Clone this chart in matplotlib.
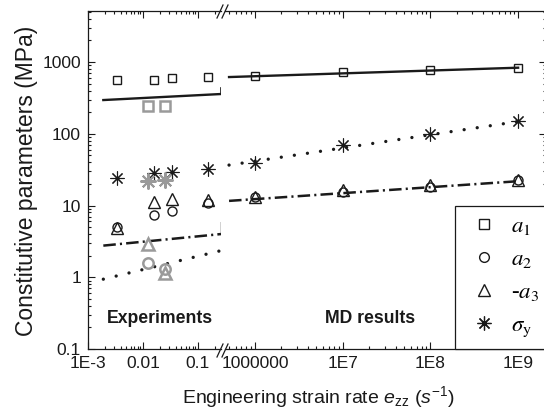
import numpy as np
import matplotlib.pyplot as plt
from matplotlib.lines import Line2D
from matplotlib.font_manager import FontProperties
from matplotlib.ticker import FixedLocator, LogLocator, NullFormatter

plt.rcParams['font.family'] = ['Liberation Sans', 'DejaVu Sans']
plt.rcParams['mathtext.fontset'] = 'custom'
plt.rcParams['mathtext.rm'] = 'Liberation Sans'
plt.rcParams['mathtext.it'] = 'Liberation Sans:italic'
plt.rcParams['lines.scale_dashes'] = False

# experiments (quasi-static tests)
exp_rate = [0.0033, 0.016, 0.033, 0.15]
exp_a1 = [560, 565, 600, 620]
exp_a2 = [5.0, 7.4, 8.5, 10.7]
exp_a3 = [4.8, 11.1, 12.3, 11.9]
exp_sy = [24.4, 28.1, 29.0, 32.0]

# second experimental set (grey)
grey_rate = [0.0125, 0.025]
grey_a1 = [245, 245]
grey_a2 = [1.6, 1.3]
grey_a3 = [2.9, 1.15]
grey_sy = [22.0, 22.5]

# molecular dynamics
md_rate = [1e6, 1e7, 1e8, 1e9]
md_a1 = [638, 726, 774, 833]
md_a2 = [13.3, 15.6, 18.3, 23.0]
md_a3 = [13.3, 16.2, 19.3, 22.6]
md_sy = [39.5, 70.3, 99.3, 150.0]

# fitted power laws, low rate side
fit_lo_rate = [0.0019, 0.262]
fit_lo_a1 = [295, 358]
fit_lo_a23 = [2.76, 4.0]
fit_lo_sy = [0.94, 2.35]
# steps at the axis break
step_a1 = [358, 434]
step_a23 = [4.0, 6.3]

# fitted power laws, high rate side
fit_hi_rate = [5.06e5, 1e9]
fit_hi_a1 = [617, 833]
fit_hi_a23 = [11.6, 21.8]
fit_hi_sy = [36.6, 148]

W, H = 544, 412
fig = plt.figure(figsize=(W / 100, H / 100), dpi=100)

def px_rect(x0, x1, y0, y1):
    return [x0 / W, 1 - y1 / H, (x1 - x0) / W, (y1 - y0) / H]

ax1 = fig.add_axes(px_rect(88, 221, 11, 349))
ax2 = fig.add_axes(px_rect(225, 546, 11, 349))

blk = '#1a1a1a'
grey = '#9a9a9a'
dashdot = (0, (9, 3, 1.5, 3))
dotted = (0, (0.01, 9.5))
star = (8, 2, 0)

def markers(ax, x, a1, a2, a3, sy, color, lw, scale):
    ax.plot(x, a1, ls='none', marker='s', ms=6.2 * scale, mfc='none', mec=color, mew=lw)
    ax.plot(x, a2, ls='none', marker='o', ms=6.5 * scale, mfc='none', mec=color, mew=lw)
    ax.plot(x, a3, ls='none', marker='^', ms=8.0 * scale, mfc='none', mec=color, mew=lw)
    ax.plot(x, sy, ls='none', marker=star, ms=10 * scale, mfc='none', mec=color, mew=lw * 0.8)

# low rate panel
ax1.plot(fit_lo_rate, fit_lo_a1, color=blk, lw=1.7)
ax1.plot([fit_lo_rate[1]] * 2, step_a1, color=blk, lw=1.2)
ax1.plot(fit_lo_rate, fit_lo_a23, color=blk, lw=1.8, ls=dashdot)
ax1.plot([fit_lo_rate[1]] * 2, step_a23, color=blk, lw=1.0, ls=dashdot)
ax1.plot(fit_lo_rate, fit_lo_sy, color=blk, lw=2.4, ls=dotted, dash_capstyle='round')
markers(ax1, exp_rate, exp_a1, exp_a2, exp_a3, exp_sy, blk, 1.0, 1.0)
markers(ax1, grey_rate, grey_a1, grey_a2, grey_a3, grey_sy, grey, 1.8, 1.15)

# high rate panel
ax2.plot(fit_hi_rate, fit_hi_a1, color=blk, lw=1.7)
ax2.plot(fit_hi_rate, fit_hi_a23, color=blk, lw=1.8, ls=dashdot)
ax2.plot(fit_hi_rate, fit_hi_sy, color=blk, lw=2.4, ls=dotted, dash_capstyle='round')
markers(ax2, md_rate, md_a1, md_a2, md_a3, md_sy, blk, 1.0, 1.0)

for ax in (ax1, ax2):
    ax.set_xscale('log')
    ax.set_yscale('log')
    ax.set_ylim(0.1, 5140)
    ax.yaxis.set_major_locator(FixedLocator([0.1, 1, 10, 100, 1000]))
    ax.yaxis.set_minor_locator(LogLocator(base=10, subs=np.arange(2, 10)))
    ax.yaxis.set_minor_formatter(NullFormatter())
    ax.xaxis.set_minor_locator(LogLocator(base=10, subs=np.arange(2, 10), numticks=30))
    ax.xaxis.set_minor_formatter(NullFormatter())
    ax.tick_params(which='both', direction='in', top=True, labelsize=12.5, width=0.8, colors=blk)
    ax.tick_params(which='major', length=5)
    ax.tick_params(which='minor', length=2.5)
    ax.tick_params(axis='x', pad=5)
    for s in ax.spines.values():
        s.set_linewidth(0.9)
        s.set_color(blk)

ax1.set_xlim(1e-3, 0.262)
ax1.set_xticks([1e-3, 1e-2, 1e-1])
ax1.set_xticklabels(['1E-3', '0.01', '0.1'])
ax1.set_yticklabels(['0.1', '1', '10', '100', '1000'])
ax1.tick_params(axis='y', which='both', left=True, right=False, pad=5)
ax1.spines['right'].set_visible(False)

ax2.set_xlim(4.55e5, 2.08e9)
ax2.set_xticks([1e6, 1e7, 1e8, 1e9])
ax2.set_xticklabels(['1000000', '1E7', '1E8', '1E9'])
ax2.tick_params(axis='y', which='both', left=False, right=True, labelleft=False)
ax2.spines['left'].set_visible(False)

# break marks on top and bottom spines
for y0 in (357, 18):
    for x0 in (217, 222):
        fig.add_artist(Line2D([x0 / W, (x0 + 6) / W], [1 - y0 / H, 1 - (y0 - 13) / H],
                              color=blk, lw=0.9))

ax1.text(0.54, 0.089, 'Experiments', transform=ax1.transAxes, ha='center', va='center',
         fontsize=12.7, fontweight='bold', color=blk)
ax2.text(0.452, 0.089, 'MD results', transform=ax2.transAxes, ha='center', va='center',
         fontsize=12.7, fontweight='bold', color=blk)

fig.text(318 / W, 1 - 397 / H, r'Engineering strain rate $e_{\mathrm{zz}}$ ($s^{\mathrm{-1}}$)',
         ha='center', va='center', fontsize=14, color=blk)
fig.text(27 / W, 1 - 181 / H, 'Constitutive parameters (MPa)', rotation=90,
         ha='center', va='center', fontsize=16.5, color=blk)

handles = [
    Line2D([], [], ls='none', marker='s', ms=6.5, mfc='none', mec=blk, mew=1.0),
    Line2D([], [], ls='none', marker='o', ms=7, mfc='none', mec=blk, mew=1.0),
    Line2D([], [], ls='none', marker='^', ms=8, mfc='none', mec=blk, mew=1.0),
    Line2D([], [], ls='none', marker=star, ms=10, mfc='none', mec=blk, mew=0.9),
]
labels = [r'$a_{\mathrm{1}}$', r'$a_{\mathrm{2}}$', r'-$a_{\mathrm{3}}$', r'$\sigma_{\mathrm{y}}$']
leg_font = FontProperties(family='Liberation Serif', style='italic', size=16.5,
                          math_fontfamily='stix')
leg = ax2.legend(handles, labels, loc='upper left', mode='expand',
                 bbox_to_anchor=(455 / W, 1 - 210 / H, 110 / W, 0.01),
                 bbox_transform=fig.transFigure, prop=leg_font, frameon=True, fancybox=False,
                 framealpha=1, edgecolor=blk, borderpad=0.45, labelspacing=0.52,
                 handlelength=1.6, handletextpad=0.4, borderaxespad=0)
leg.get_frame().set_linewidth(0.9)
leg.set_zorder(5)

fig.savefig('out.png', dpi=100)
